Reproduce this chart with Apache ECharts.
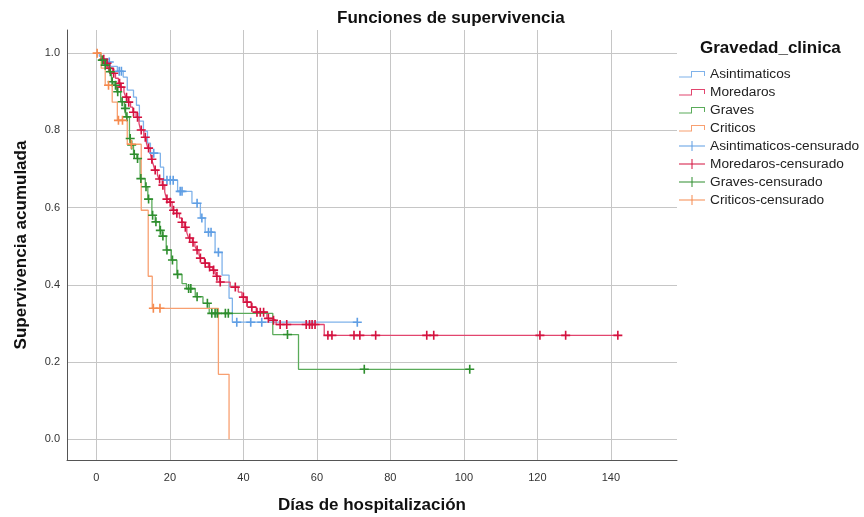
<!DOCTYPE html>
<html>
<head>
<meta charset="utf-8">
<script src="https://cdn.jsdelivr.net/npm/echarts@6/dist/echarts.min.js"></script>
<style>html,body{margin:0;padding:0;background:#fff;}#c{width:864px;height:517px;}</style>
</head>
<body>
<div id="c"></div>
<script>
// ---- Data ----
const groupNames = ['Asintimaticos', 'Moredaros', 'Graves', 'Criticos'];
const censorNames = ['Asintimaticos-censurado', 'Moredaros-censurado', 'Graves-censurado', 'Criticos-censurado'];

// Asintimaticos: step times (days) and survival after each step
const asinDays = [0, 0.8, 1.9, 3.0, 3.8, 5.7, 7.3, 8.4, 10.1, 10.9, 11.7, 12.8, 13.9, 14.7, 17.4, 18.3, 22.1, 26.0, 28.3, 29.6, 32.3, 34.2, 36.1, 37.0];
const asinSurv = [1.0, 0.992, 0.986, 0.977, 0.966, 0.953, 0.938, 0.904, 0.886, 0.865, 0.824, 0.798, 0.767, 0.741, 0.705, 0.671, 0.642, 0.611, 0.573, 0.536, 0.484, 0.425, 0.365, 0.303];
const asinEnd = 71.0;
const asinCensDays = [3.5, 6.2, 6.8, 15.6, 19.2, 20.1, 20.9, 22.8, 23.3, 27.4, 28.7, 30.5, 31.2, 33.2, 38.2, 42.0, 45.0, 71.0];
const asinCensSurv = [0.977, 0.953, 0.953, 0.741, 0.671, 0.671, 0.671, 0.642, 0.642, 0.611, 0.573, 0.536, 0.536, 0.484, 0.303, 0.303, 0.303, 0.303];

// Moredaros
const moreDays = [0, 1.2, 1.8, 2.7, 3.4, 4.4, 5.2, 6.0, 6.6, 7.5, 8.0, 8.6, 9.3, 9.9, 10.8, 11.6, 12.0, 12.9, 13.6, 14.0, 14.7, 15.0, 15.5, 15.9, 16.6, 17.0, 17.9, 18.6, 19.1, 19.9, 20.6, 21.8, 22.6, 23.2, 23.9, 24.6, 25.1, 26.1, 26.8, 27.3, 27.9, 28.2, 29.4, 30.5, 31.6, 32.3, 32.7, 33.5, 36.4, 38.6, 39.6, 40.7, 42.1, 43.5, 46.4, 47.9, 48.9, 62.0];
const moreSurv = [1.0, 0.99, 0.984, 0.974, 0.961, 0.948, 0.935, 0.922, 0.912, 0.899, 0.886, 0.873, 0.86, 0.847, 0.834, 0.818, 0.801, 0.782, 0.768, 0.754, 0.74, 0.725, 0.711, 0.697, 0.685, 0.674, 0.658, 0.64, 0.622, 0.614, 0.593, 0.585, 0.573, 0.562, 0.549, 0.535, 0.521, 0.51, 0.5, 0.49, 0.479, 0.469, 0.456, 0.446, 0.438, 0.43, 0.422, 0.407, 0.394, 0.381, 0.368, 0.355, 0.342, 0.329, 0.313, 0.308, 0.297, 0.269];
const moreEnd = 141.9;
const moreCensDays = [2.0, 2.9, 3.6, 4.7, 6.3, 6.7, 8.2, 8.8, 10.1, 11.2, 12.2, 13.3, 14.2, 15.1, 16.0, 17.2, 18.1, 19.2, 20.1, 21.0, 21.9, 23.3, 24.2, 25.4, 26.3, 27.4, 28.3, 29.6, 30.8, 31.9, 32.8, 33.7, 37.8, 40.0, 41.0, 42.3, 43.7, 44.6, 45.5, 46.8, 48.2, 50.0, 51.8, 57.1, 58.0, 58.7, 59.5, 63.0, 64.1, 70.1, 71.7, 76.0, 89.9, 91.8, 120.7, 127.7, 141.9];
const moreCensSurv = [0.984, 0.974, 0.961, 0.948, 0.922, 0.912, 0.886, 0.873, 0.847, 0.834, 0.801, 0.782, 0.754, 0.725, 0.697, 0.674, 0.658, 0.622, 0.614, 0.593, 0.585, 0.562, 0.549, 0.521, 0.51, 0.49, 0.469, 0.456, 0.446, 0.438, 0.422, 0.407, 0.394, 0.368, 0.355, 0.342, 0.329, 0.329, 0.329, 0.313, 0.308, 0.297, 0.297, 0.297, 0.297, 0.297, 0.297, 0.269, 0.269, 0.269, 0.269, 0.269, 0.269, 0.269, 0.269, 0.269, 0.269];

// Graves
const gravDays = [0, 1.2, 2.2, 3.3, 4.1, 4.8, 5.5, 6.6, 7.6, 8.1, 9.0, 9.4, 10.1, 11.0, 11.9, 13.3, 14.0, 15.1, 16.0, 17.2, 17.9, 19.0, 20.4, 21.9, 23.3, 24.5, 26.9, 29.0, 30.7, 48.0, 55.0];
const gravSurv = [1.0, 0.982, 0.969, 0.952, 0.926, 0.917, 0.9, 0.874, 0.857, 0.835, 0.779, 0.762, 0.738, 0.727, 0.675, 0.654, 0.622, 0.58, 0.563, 0.541, 0.526, 0.49, 0.464, 0.427, 0.403, 0.39, 0.369, 0.352, 0.326, 0.271, 0.181];
const gravEnd = 101.6;
const gravCensDays = [1.6, 2.4, 3.8, 4.3, 5.2, 5.8, 7.0, 7.9, 8.3, 9.2, 9.6, 10.3, 11.2, 12.1, 13.5, 14.2, 15.3, 16.2, 17.4, 18.1, 19.2, 20.7, 22.1, 25.1, 25.7, 27.4, 30.2, 31.4, 32.3, 32.9, 35.1, 35.9, 52.0, 72.9, 101.6];
const gravCensSurv = [0.982, 0.969, 0.952, 0.926, 0.917, 0.9, 0.874, 0.857, 0.835, 0.779, 0.762, 0.738, 0.727, 0.675, 0.654, 0.622, 0.58, 0.563, 0.541, 0.526, 0.49, 0.464, 0.427, 0.39, 0.39, 0.369, 0.352, 0.326, 0.326, 0.326, 0.326, 0.326, 0.271, 0.181, 0.181];

// Criticos
const critDays = [0, 1.3, 2.4, 4.3, 5.7, 8.4, 12.2, 14.1, 15.2, 33.2, 36.1];
const critSurv = [1.0, 0.961, 0.917, 0.873, 0.826, 0.764, 0.593, 0.422, 0.339, 0.168, 0];
const critEnd = 36.1;
const critCensDays = [0.2, 3.3, 6.0, 7.1, 9.5, 15.5, 17.3];
const critCensSurv = [1.0, 0.917, 0.826, 0.826, 0.764, 0.339, 0.339];

// ---- Styling ----
const lineColors = ['#7fb2ea', '#e2456e', '#5aab5a', '#f8a071'];
const crossColors = ['#5f9ee4', '#d4123f', '#2e8e2e', '#f58a4e'];
const FONT = '"Liberation Sans", Arial, sans-serif';

function stepData(days, surv, end) {
  const d = days.map((t, i) => [t, surv[i]]);
  const last = d[d.length - 1];
  if (end > last[0]) d.push([end, last[1]]);
  return d;
}
function pairData(days, surv) { return days.map((t, i) => [t, surv[i]]); }

const steps = [
  stepData(asinDays, asinSurv, asinEnd),
  stepData(moreDays, moreSurv, moreEnd),
  stepData(gravDays, gravSurv, gravEnd),
  stepData(critDays, critSurv, critEnd)
];
const censors = [
  pairData(asinCensDays, asinCensSurv),
  pairData(moreCensDays, moreCensSurv),
  pairData(gravCensDays, gravCensSurv),
  pairData(critCensDays, critCensSurv)
];

const crossSymbol = 'path://M4.1,0 L5.9,0 L5.9,4.1 L10,4.1 L10,5.9 L5.9,5.9 L5.9,10 L4.1,10 L4.1,5.9 L0,5.9 L0,4.1 L4.1,4.1 Z';
const stepIcon = 'path://M0,0 L0.01,0 L0,0.01 Z M26,10 L25.99,10 L26,9.99 Z M0,7.5 L12,7.5 L12,2 L26,2 L26,7 L25,7 L25,3 L13,3 L13,8.5 L0,8.5 Z';
const plusIcon = 'path://M0,4.5 L12.5,4.5 L12.5,0 L13.5,0 L13.5,4.5 L26,4.5 L26,5.5 L13.5,5.5 L13.5,10 L12.5,10 L12.5,5.5 L0,5.5 Z';

const series = [];
groupNames.forEach((n, i) => {
  series.push({
    name: n, type: 'line', step: 'end', data: steps[i],
    symbol: 'none', showSymbol: false,
    lineStyle: { color: lineColors[i], width: 1.3 },
    itemStyle: { color: lineColors[i] },
    z: 2 + i * 0.1, silent: true
  });
});
censorNames.forEach((n, i) => {
  series.push({
    name: n, type: 'scatter', data: censors[i],
    symbol: crossSymbol, symbolSize: 9,
    itemStyle: { color: crossColors[i], opacity: 1 },
    z: 3 + i * 0.1, silent: true
  });
});

const legendData = groupNames.map((n, i) => ({ name: n, icon: stepIcon, itemStyle: { color: lineColors[i], borderWidth: 0 }, lineStyle: { width: 0 } }))
  .concat(censorNames.map((n, i) => ({ name: n, icon: plusIcon, itemStyle: { color: crossColors[i], borderWidth: 0 } })));

const chart = echarts.init(document.getElementById('c'), null, { renderer: 'canvas' });
chart.setOption({
  animation: false,
  backgroundColor: '#ffffff',
  textStyle: { fontFamily: FONT },
  title: [
    { text: 'Funciones de supervivencia', left: 332, top: 5, textStyle: { fontFamily: FONT, fontSize: 17, fontWeight: 'bold', color: '#111' } },
    { text: 'Gravedad_clinica', left: 695, top: 35, textStyle: { fontFamily: FONT, fontSize: 17, fontWeight: 'bold', color: '#111' } }
  ],
  legend: {
    orient: 'vertical', left: 674, top: 62,
    itemWidth: 26, itemHeight: 10, itemGap: 4,
    data: legendData,
    textStyle: { fontFamily: FONT, fontSize: 13.7, color: '#222' },
    selectedMode: false
  },
  grid: { left: 67, right: 187, top: 30, bottom: 57, containLabel: false, outerBoundsMode: 'none' },
  xAxis: {
    type: 'value', min: -8, max: 158, splitNumber: 8,
    name: 'Días de hospitalización', nameLocation: 'middle', nameGap: 37,
    nameTextStyle: { fontFamily: FONT, fontSize: 17, fontWeight: 'bold', color: '#111' },
    axisLine: { show: true, onZero: false, lineStyle: { color: '#555', width: 1 } },
    axisTick: { show: false },
    axisLabel: { showMinLabel: false, showMaxLabel: false, fontSize: 11, color: '#333', margin: 12, fontFamily: FONT },
    splitLine: { show: true, showMinLine: false, showMaxLine: false, lineStyle: { color: '#c6c6c6', width: 1 } }
  },
  yAxis: {
    type: 'value', min: -0.054, max: 1.06, splitNumber: 5,
    name: 'Supervivencia acumulada', nameLocation: 'middle', nameGap: 37,
    nameTextStyle: { fontFamily: FONT, fontSize: 17, fontWeight: 'bold', color: '#111' },
    axisLine: { show: true, onZero: false, lineStyle: { color: '#555', width: 1 } },
    axisTick: { show: false },
    axisLabel: { showMinLabel: false, showMaxLabel: false, fontSize: 11, color: '#333', margin: 7, fontFamily: FONT,
      formatter: v => v.toFixed(1) },
    splitLine: { show: true, showMinLine: false, showMaxLine: false, lineStyle: { color: '#c6c6c6', width: 1 } }
  },
  series: series
});
</script>
</body>
</html>
